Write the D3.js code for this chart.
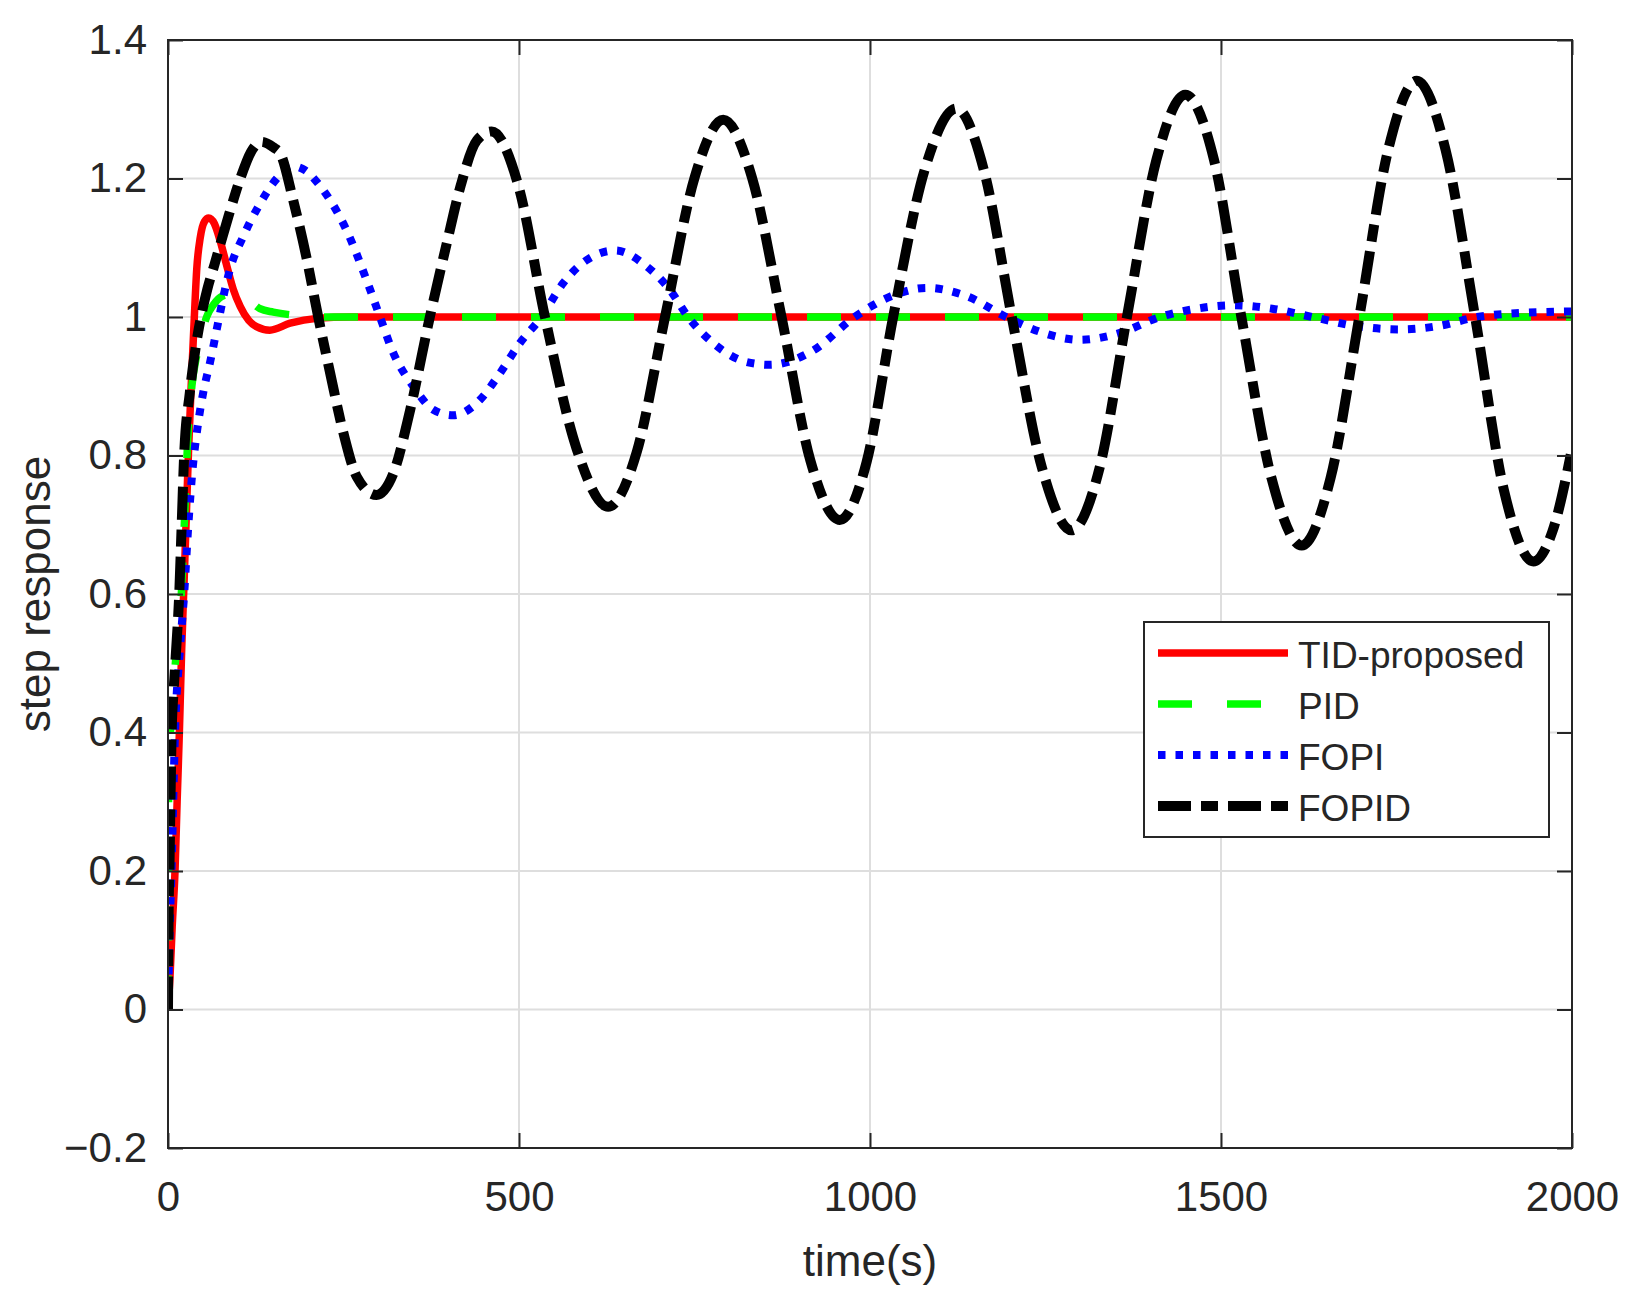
<!DOCTYPE html>
<html>
<head>
<meta charset="utf-8">
<script src="https://cdn.jsdelivr.net/npm/d3@7/dist/d3.min.js"></script>
<style>
  html, body { margin: 0; padding: 0; background: #ffffff; }
  svg { display: block; }
  text { font-family: "Liberation Sans", Arial, Helvetica, sans-serif; fill: #262626; }
</style>
</head>
<body>
<svg id="chart" width="1636" height="1305"></svg>
<script>
// ---------------- data ----------------
const xTicks = [0, 500, 1000, 1500, 2000];
const xTickLabels = ["0", "500", "1000", "1500", "2000"];
const yTicks = [-0.2, 0, 0.2, 0.4, 0.6, 0.8, 1, 1.2, 1.4];
const yTickLabels = ["\u22120.2", "0", "0.2", "0.4", "0.6", "0.8", "1", "1.2", "1.4"];

const seriesNames = ["TID-proposed", "PID", "FOPI", "FOPID"];

// TID-proposed
const tidT = [0, 3, 6, 10, 13, 16.2, 19.5, 23, 26, 29, 33, 37.5, 41, 46, 52, 58, 66, 74, 84, 93, 103, 115, 126, 145, 174, 212, 260, 2000];
const tidV = [0, 0.05, 0.12, 0.2, 0.3, 0.4, 0.52, 0.62, 0.71, 0.8, 0.9, 1.0, 1.07, 1.115, 1.138, 1.143, 1.135, 1.111, 1.073, 1.04, 1.015, 0.995, 0.986, 0.981, 0.991, 0.998, 1.0, 1.0];

// PID
const pidT = [0, 0.5, 1, 5, 12, 19, 24, 28, 34, 41, 48, 55, 65, 77, 90, 105, 120, 131, 150, 176, 230, 2000];
const pidV = [0, 0.2, 0.35, 0.42, 0.52, 0.6, 0.72, 0.82, 0.9, 0.945, 0.975, 1.0, 1.018, 1.03, 1.033, 1.028, 1.02, 1.012, 1.007, 1.003, 1.0, 1.0];

// FOPI
const fopiT = [0, 2, 5, 10, 17, 23, 29, 35, 42, 50, 60, 72, 81, 88, 107, 129, 155, 176, 195, 216, 254, 283, 302, 321, 350, 378, 406, 444, 473, 501, 532, 563, 596, 637, 682, 715, 741, 777, 824, 857, 918, 978, 1030, 1081, 1138, 1194, 1247, 1299, 1356, 1413, 1465, 1517, 1573, 1630, 1692, 1755, 1810, 1865, 1930, 2000];
const fopiV = [0, 0.1, 0.2, 0.4, 0.52, 0.6, 0.7, 0.78, 0.84, 0.89, 0.935, 0.995, 1.039, 1.068, 1.116, 1.16, 1.2, 1.218, 1.212, 1.19, 1.126, 1.053, 1.0, 0.948, 0.899, 0.866, 0.858, 0.88, 0.919, 0.962, 1.0, 1.049, 1.082, 1.096, 1.073, 1.039, 1.0, 0.962, 0.935, 0.931, 0.951, 1.0, 1.03, 1.042, 1.03, 1.0, 0.977, 0.967, 0.977, 1.0, 1.012, 1.017, 1.012, 1.0, 0.987, 0.982, 0.987, 1.0, 1.006, 1.008];

// FOPID
const fopidT = [0, 1, 2, 3.5, 5.2, 8, 11, 16, 19.5, 23, 31, 40, 47, 56, 66, 86, 103, 118, 133, 150, 160, 178, 197, 214, 231, 250, 269, 297, 321, 345, 373, 397, 417, 440, 461, 499, 537, 582, 627, 668, 708, 750, 791, 832, 874, 915, 957, 995, 1033, 1078, 1123, 1162, 1202, 1245, 1287, 1327, 1366, 1408, 1449, 1490, 1529, 1572, 1615, 1656, 1697, 1738, 1779, 1820, 1862, 1903, 1945, 1972, 2000];
const fopidV = [0, 0.15, 0.2, 0.3, 0.4, 0.46, 0.51, 0.6, 0.7, 0.8, 0.89, 0.96, 1.0, 1.04, 1.075, 1.145, 1.2, 1.238, 1.253, 1.245, 1.236, 1.17, 1.087, 1.0, 0.919, 0.832, 0.769, 0.743, 0.774, 0.866, 1.0, 1.106, 1.19, 1.255, 1.268, 1.19, 1.0, 0.81, 0.726, 0.806, 1.0, 1.201, 1.285, 1.201, 1.0, 0.793, 0.707, 0.79, 1.0, 1.213, 1.301, 1.213, 1.0, 0.782, 0.692, 0.782, 1.0, 1.227, 1.321, 1.227, 1.0, 0.767, 0.67, 0.767, 1.0, 1.241, 1.341, 1.241, 1.0, 0.75, 0.647, 0.69, 0.81];

// ---------------- drawing ----------------
const svg = d3.select("#chart");
const L = 168, R = 1572, T = 40, B = 1148;
const x = d3.scaleLinear().domain([0, 2000]).range([L, R]);
const y = d3.scaleLinear().domain([-0.2, 1.4]).range([B, T]);

svg.append("rect").attr("width", 1636).attr("height", 1305).attr("fill", "#ffffff");

// grid
const grid = svg.append("g").attr("stroke", "#dedede").attr("stroke-width", 2);
xTicks.forEach(v => grid.append("line").attr("x1", x(v)).attr("x2", x(v)).attr("y1", T).attr("y2", B));
yTicks.forEach(v => grid.append("line").attr("x1", L).attr("x2", R).attr("y1", y(v)).attr("y2", y(v)));

// clip
svg.append("defs").append("clipPath").attr("id", "clip")
  .append("rect").attr("x", L).attr("y", T).attr("width", R - L).attr("height", B - T);

const makeData = (ts, vs) => ts.map((t, i) => ({ t, v: vs[i] }));
const line = d3.line().x(d => x(d.t)).y(d => y(d.v)).curve(d3.curveMonotoneX);

const styles = [
  { color: "#ff0000", width: 7.5, dash: null },
  { color: "#00ff00", width: 7.5, dash: "34,35" },
  { color: "#0000ff", width: 8, dash: "7.5,10" },
  { color: "#000000", width: 10, dash: "33,10,17,10" }
];
const datasets = [makeData(tidT, tidV), makeData(pidT, pidV), makeData(fopiT, fopiV), makeData(fopidT, fopidV)];

const plot = svg.append("g").attr("clip-path", "url(#clip)");
datasets.forEach((d, i) => {
  const s = styles[i];
  const p = plot.append("path").datum(d).attr("d", line)
    .attr("fill", "none").attr("stroke", s.color).attr("stroke-width", s.width)
    .attr("stroke-linejoin", "round").attr("stroke-linecap", "butt");
  if (s.dash) p.attr("stroke-dasharray", s.dash);
});

// axes
const axisColor = "#262626";
const gBottom = svg.append("g").attr("transform", `translate(0,${B})`)
  .call(d3.axisBottom(x).tickValues(xTicks).tickFormat((d, i) => xTickLabels[i]).tickSizeInner(-15).tickSizeOuter(0).tickPadding(33));
const gLeft = svg.append("g").attr("transform", `translate(${L},0)`)
  .call(d3.axisLeft(y).tickValues(yTicks).tickFormat((d, i) => yTickLabels[i]).tickSizeInner(-15).tickSizeOuter(0).tickPadding(21));
const gTop = svg.append("g").attr("transform", `translate(0,${T})`)
  .call(d3.axisTop(x).tickValues(xTicks).tickFormat("").tickSizeInner(-15).tickSizeOuter(0));
const gRight = svg.append("g").attr("transform", `translate(${R},0)`)
  .call(d3.axisRight(y).tickValues(yTicks).tickFormat("").tickSizeInner(-15).tickSizeOuter(0));

[gBottom, gLeft, gTop, gRight].forEach(g => {
  g.select(".domain").remove();
  g.selectAll(".tick line").attr("stroke", axisColor).attr("stroke-width", 2);
  g.selectAll(".tick text").attr("font-size", 42).attr("fill", axisColor)
    .attr("font-family", "'Liberation Sans', Arial, Helvetica, sans-serif");
});

svg.append("rect").attr("x", L).attr("y", T).attr("width", R - L).attr("height", B - T)
  .attr("fill", "none").attr("stroke", axisColor).attr("stroke-width", 2);

// axis labels
svg.append("text").attr("x", (L + R) / 2).attr("y", 1276).attr("text-anchor", "middle")
  .attr("font-size", 44).text("time(s)");
svg.append("text").attr("transform", `translate(50,${(T + B) / 2}) rotate(-90)`)
  .attr("text-anchor", "middle").attr("font-size", 44).text("step response");

// legend
const lg = svg.append("g");
lg.append("rect").attr("x", 1144).attr("y", 622).attr("width", 405).attr("height", 215)
  .attr("fill", "#ffffff").attr("stroke", axisColor).attr("stroke-width", 2);
seriesNames.forEach((name, i) => {
  const s = styles[i];
  const yy = 653 + i * 51;
  const l = lg.append("line").attr("x1", 1158).attr("x2", 1288).attr("y1", yy).attr("y2", yy)
    .attr("stroke", s.color).attr("stroke-width", s.width).attr("stroke-linecap", "butt");
  if (s.dash) l.attr("stroke-dasharray", s.dash);
  lg.append("text").attr("x", 1298).attr("y", yy + 15).attr("font-size", 37).attr("fill", "#000000").text(name);
});
</script>
</body>
</html>
